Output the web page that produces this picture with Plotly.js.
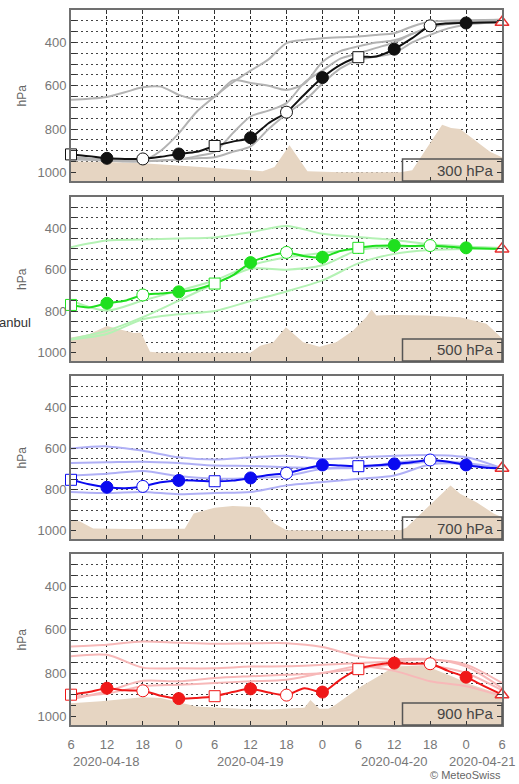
<!DOCTYPE html>
<html><head><meta charset="utf-8">
<script src="https://cdn.plot.ly/plotly-3.0.1.min.js"></script>
<style>html,body{margin:0;padding:0;background:#fff;} #chart{width:519px;height:784px;}</style>
</head><body><div id="chart"></div>
<script>
// ---------- axes / labels ----------
const H3 = [0,3,6,9,12,15,18,21,24,27,30,33,36,39,42,45,48,51,54,57,60,63,66,69,72];
const H6 = [0,6,12,18,24,30,36,42,48,54,60,66,72];
const xTickText = ["6","12","18","0","6","12","18","0","6","12","18","0","6"];
const dateLabels = ["2020-04-18","2020-04-19","2020-04-20","2020-04-21"];
const dateLabelHours = [6,30,54,72];
const yGridVals = [300,350,400,450,500,550,600,650,700,750,800,850,900,950,1000];
const yLabelVals = [400,600,800,1000];
const levelLabels = ["300 hPa","500 hPa","700 hPa","900 hPa"];
const squareHours = [0,24,48];
const filledHours = [6,18,30,42,54,66];
const openHours = [12,36,60];
const endHours = [72];

// ---------- 300 hPa ----------
const main300 = [917,925,935,938,938,928,915,905,878,858,840,773,722,640,562,503,468,465,431,380,323,312,310,308,307];
const ens300a = [930,935,940,945,945,900,820,720,650,585,530,478,403,388,381,376,372,365,357,326,303,300,298,296,295];
const ens300b = [665,660,652,630,607,604,642,662,650,575,587,600,619,590,490,440,418,400,390,360,330,310,300,297,295];
const ens300c = [940,942,945,947,948,945,940,925,905,820,742,715,680,585,530,475,450,425,400,360,330,315,305,300,298];
const ens300d = [935,940,945,950,950,945,940,935,930,905,880,800,730,670,590,520,480,465,449,400,365,335,318,310,307];
const terr300H = [0,6,12,18,24,30,32,34,36.5,39.5,45,55,57,62,63.5,65,70,72];
const terr300P = [950,952,958,968,978,990,995,975,875,995,1000,1000,990,780,795,800,905,930];

// ---------- 500 hPa ----------
const main500 = [770,782,762,750,722,715,707,694,667,628,566,535,517,535,540,510,495,485,484,486,484,490,495,498,500];
const ens500a = [492,460,455,450,445,420,390,427,443,457,478,488,495];
const ens500b = [749,797,749,701,652,580,540,520,500,488,485,492,498];
const ens500c = [934,894,829,749,668,596,600,579,506,490,488,495,500];
const ens500d = [936,910,839,815,799,751,705,652,570,524,505,500,500];
const terr500H = [0,3,6,8,10.5,11.7,13.2,15,30,31.6,33.8,35.9,38.8,41.5,44.3,47.1,49.3,50.2,51,53.8,59.4,65,69.4,72];
const terr500P = [927,911,871,887,905,903,995,1000,1000,966,950,878,950,971,950,894,829,792,821,819,821,829,861,930];

// ---------- 700 hPa ----------
const main700 = [753,775,789,794,785,765,756,757,760,757,744,730,721,700,681,684,687,682,676,668,657,665,681,693,697];
const ens700a = [601,591,612,644,655,644,636,652,644,636,633,644,697];
const ens700b = [671,668,665,672,684,686,692,697,690,681,665,671,697];
const ens700c = [732,724,710,735,748,745,735,700,695,670,660,678,697];
const ens700d = [812,817,812,823,817,812,780,764,748,732,679,676,700];
const terr700H = [0,1.5,3.7,10,19,20.5,24,27,31.5,32,34,36,45,55,56,63.4,65,67.8,70.6,72];
const terr700P = [949,955,989,992,990,916,888,880,886,900,965,997,1000,998,985,780,820,863,916,935];

// ---------- 900 hPa ----------
const main900 = [900,888,870,880,882,905,918,915,907,888,873,890,902,870,888,830,782,762,754,757,757,790,819,860,900];
const ens900a = [677,669,654,660,665,663,662,680,723,735,735,770,870];
const ens900b = [723,716,775,778,778,770,769,762,754,746,738,761,846];
const ens900c = [922,884,836,838,823,815,808,800,769,790,838,861,907];
const ens900d = [910,895,861,854,846,838,831,800,780,760,765,800,880];
const terr900H = [0,5,12,15,18,21,28,33,39,40,41.5,43,44,48.5,51.8,54,58.5,60.7,64,66.8,70.2,72];
const terr900P = [940,930,912,915,935,955,965,968,960,925,965,965,950,861,808,770,765,782,820,853,884,899];

// ---------- build ----------
const panels = [
  {main: main300, ensH: H3, ens: [ens300a,ens300b,ens300c,ens300d], tH: terr300H, tP: terr300P,
   col: '#111111', ensCol: '#b3b3b3', open: '#111111', dom: [0.7608, 1]},
  {main: main500, ensH: H6, ens: [ens500a,ens500b,ens500c,ens500d], tH: terr500H, tP: terr500P,
   col: '#1fe01f', ensCol: '#b4f2b4', open: '#1fe01f', dom: [0.5091, 0.7385]},
  {main: main700, ensH: H6, ens: [ens700a,ens700b,ens700c,ens700d], tH: terr700H, tP: terr700P,
   col: '#0a0af0', ensCol: '#b0b0f6', open: '#0a0af0', dom: [0.2601, 0.4881]},
  {main: main900, ensH: H6, ens: [ens900a,ens900b,ens900c,ens900d], tH: terr900H, tP: terr900P,
   col: '#f01818', ensCol: '#f7b8b8', open: '#f01818', dom: [0, 0.2392]}
];
const pxHeights = [171, 164, 163, 171];
const terrainColor = '#e6d5c2';
const FONT = 'Liberation Sans, Arial, Helvetica, sans-serif';

const traces = [];
const layout = {
  width: 519, height: 784, margin: {l: 71, r: 17, t: 10, b: 59},
  paper_bgcolor: '#ffffff', plot_bgcolor: '#ffffff', showlegend: false,
  font: {family: FONT, color: '#777'},
  annotations: [], shapes: []
};

function at(arr, hours) { return hours.map(h => arr[H3.indexOf(h)]); }

panels.forEach((p, i) => {
  const n = i === 0 ? '' : String(i + 1);
  const xa = 'x' + n, ya = 'y' + n;
  // terrain
  traces.push({x: p.tH.concat([72, 0]), y: p.tP.concat([1100, 1100]), xaxis: xa, yaxis: ya,
    type: 'scatter', mode: 'lines', fill: 'toself', fillcolor: terrainColor,
    line: {width: 0, color: terrainColor}, hoverinfo: 'skip'});
  // ensemble
  p.ens.forEach(e => traces.push({x: p.ensH, y: e, xaxis: xa, yaxis: ya, type: 'scatter',
    mode: 'lines', line: {color: p.ensCol, width: 2, shape: 'spline', smoothing: 0.8}}));
  // main
  traces.push({x: H3, y: p.main, xaxis: xa, yaxis: ya, type: 'scatter', mode: 'lines',
    line: {color: p.col, width: 2, shape: 'spline', smoothing: 0.8}});
  // markers
  traces.push({x: squareHours, y: at(p.main, squareHours), xaxis: xa, yaxis: ya, type: 'scatter',
    mode: 'markers', cliponaxis: false,
    marker: {symbol: 'square', size: 11, color: '#fff', line: {color: p.open, width: 1}}});
  traces.push({x: filledHours, y: at(p.main, filledHours), xaxis: xa, yaxis: ya, type: 'scatter',
    mode: 'markers', cliponaxis: false,
    marker: {symbol: 'circle', size: 12, color: p.col, line: {color: p.col, width: 1}}});
  traces.push({x: openHours, y: at(p.main, openHours), xaxis: xa, yaxis: ya, type: 'scatter',
    mode: 'markers', cliponaxis: false,
    marker: {symbol: 'circle', size: 12, color: '#fff', line: {color: p.open, width: 1}}});
  traces.push({x: endHours, y: at(p.main, endHours), xaxis: xa, yaxis: ya, type: 'scatter',
    mode: 'markers', cliponaxis: false,
    marker: {symbol: 'triangle-up', size: 12, color: '#fff', line: {color: '#e83030', width: 1.5}}});

  const last = i === 3;
  layout['xaxis' + n] = {
    domain: [0, 1], anchor: ya, range: [0, 72], tickmode: 'array', tickvals: H6,
    ticktext: last ? xTickText : H6.map(() => ''),
    showgrid: true, gridcolor: '#222', gridwidth: 1, griddash: '3px,3px',
    ticks: 'inside', ticklen: 4, tickcolor: '#333', showline: true, mirror: 'ticks',
    linecolor: '#707070', linewidth: 2, zeroline: false,
    tickfont: {family: FONT, size: 13, color: '#777'}, ticklabelstandoff: 6, fixedrange: true
  };
  layout['yaxis' + n] = {
    domain: p.dom, anchor: xa, range: [1040, 250], tickmode: 'array', tickvals: yGridVals,
    ticktext: yGridVals.map(v => yLabelVals.includes(v) ? String(v) : ''),
    showgrid: true, gridcolor: '#444', gridwidth: 1, griddash: '2px,3px',
    ticks: 'inside', ticklen: 5, tickcolor: '#333', showline: true, mirror: 'ticks',
    linecolor: '#707070', linewidth: 2, zeroline: false,
    tickfont: {family: FONT, size: 13, color: '#777'}, fixedrange: true
  };
  // hPa label
  layout.annotations.push({text: 'hPa', xref: 'paper', x: -49 / 431, yref: ya + ' domain', y: 0.5,
    textangle: -90, showarrow: false, font: {family: FONT, size: 12, color: '#666'},
    xanchor: 'center', yanchor: 'middle'});
  // level box + label
  const boxFrac = 22 / pxHeights[i];
  layout.shapes.push({type: 'rect', xref: xa + ' domain', yref: ya + ' domain',
    x0: (402.5 - 71) / 431, x1: 1, y0: 0, y1: boxFrac, line: {color: '#555', width: 1.5},
    fillcolor: 'rgba(0,0,0,0)', layer: 'above'});
  layout.annotations.push({text: levelLabels[i], xref: xa + ' domain', x: 0.985, xanchor: 'right',
    yref: ya + ' domain', y: boxFrac / 2, yanchor: 'middle', showarrow: false,
    font: {family: FONT, size: 15, color: '#444'}});
});

// date labels under bottom axis
dateLabels.forEach((d, k) => {
  const isLast = k === dateLabels.length - 1;
  layout.annotations.push({text: d, xref: isLast ? 'paper' : 'x4', x: isLast ? (518 - 71) / 431 : dateLabelHours[k],
    xanchor: isLast ? 'right' : 'center', yref: 'paper', y: (725 - 761) / 715, yanchor: 'middle',
    showarrow: false, font: {family: FONT, size: 13, color: '#777'}});
});
layout.annotations.push({text: '© MeteoSwiss', xref: 'paper', x: (503 - 71) / 431, xanchor: 'right',
  yref: 'paper', y: (725 - 775) / 715, yanchor: 'middle', showarrow: false,
  font: {family: FONT, size: 11, color: '#666'}});
layout.annotations.push({text: 'anbul', xref: 'paper', x: (33 - 71) / 431, xanchor: 'right',
  yref: 'paper', y: (725 - 322) / 715, yanchor: 'middle', showarrow: false,
  font: {family: FONT, size: 13, color: '#333'}});

Plotly.newPlot('chart', traces, layout, {staticPlot: true, displayModeBar: false});
</script></body></html>
